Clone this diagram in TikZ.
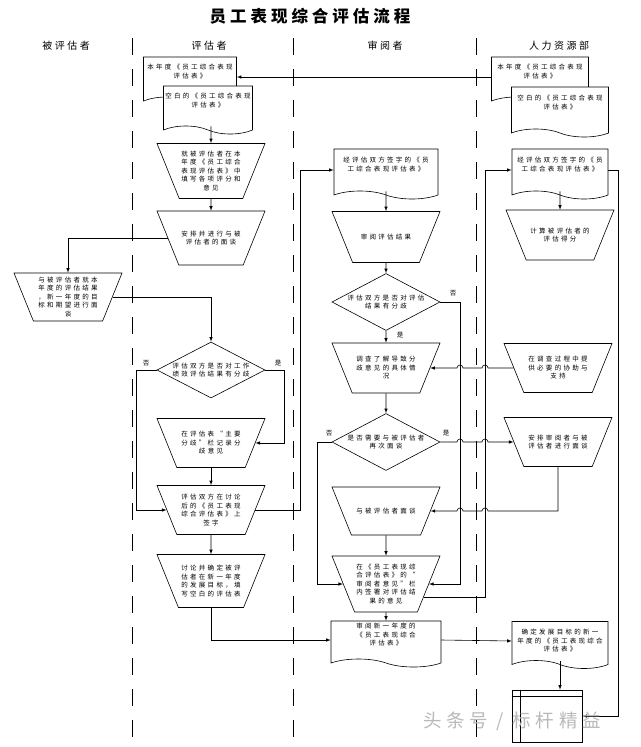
\documentclass[tikz,border=0pt]{standalone}
\usepackage{fontspec}
\usetikzlibrary{arrows}
\usetikzlibrary{shapes.geometric}
\usetikzlibrary{shapes.symbols}
\usetikzlibrary{calc}

\newfontfamily\cjk[LetterSpace=35]{Noto Sans CJK SC}
\newfontfamily\cjkhead[LetterSpace=25]{Noto Sans CJK SC}
\newfontfamily\cjktitle[LetterSpace=24]{Noto Sans CJK SC}
\newcommand{\docpad}{\\[3pt]\mbox{}}
% text block of a manual step: height of the shape, then the lines
\newcommand{\trapbody}[2]{\parbox[c][#1][c]{\dimexpr108pt-0.808\dimexpr#1\relax\relax}{\centering #2}}

\tikzset{
  flow/.style={->, >=latex, line width=0.6pt},
  lane/.style={line width=0.9pt, dash pattern=on 17pt off 14pt},
  lanehead/.style={font=\cjkhead\fontsize{10}{12}\selectfont},
  box/.style={draw, line width=0.6pt, fill=white, align=center, inner sep=1pt,
    font=\cjk\fontsize{6.5}{8.5}\selectfont},
  manual/.style={box, trapezium, shape border rotate=180, inner sep=0pt,
    trapezium left angle=68, trapezium right angle=68},
  doc/.style={box, tape, tape bend top=none, tape bend bottom=out and in,
    tape bend height=8pt},
  decision/.style={box, diamond, aspect=1.9, inner sep=0pt,
    minimum width=108pt, minimum height=56pt},
  answer/.style={font=\cjk\fontsize{6.5}{8}\selectfont, inner sep=0pt},
}

\begin{document}
\begin{tikzpicture}[x=1pt, y=1pt]
  \useasboundingbox[fill=white] (0,0) rectangle (640,-747);

  % title, lanes
  \node[font=\cjktitle\bfseries\fontsize{16.5}{19}\selectfont] (title) at (310,-16) {员工表现综合评估流程};
  \node[lanehead] (headB) at (66,-46) {被评估者};
  \node[lanehead] (headE) at (209,-46) {评估者};
  \node[lanehead] (headR) at (385,-46) {审阅者};
  \node[lanehead] (headH) at (559,-46) {人力资源部};
  \draw[lane] (132,-38) -- (132,-747);
  \draw[lane] (293,-38) -- (293,-747);
  \draw[lane] (476,-38) -- (476,-747);

  \coordinate (ebus) at (300,0);
  \coordinate (rbus) at (460,0);
  \coordinate (hbus) at (485,0);
  \coordinate (hrbus) at (618,0);

  % evaluator
  \node[doc, minimum width=93pt, minimum height=48pt] (edocA) at (190,-77) {本年度《员工综合表现\\评估表》\docpad};
  \node[doc, minimum width=89pt, minimum height=48pt] (edocB) at (208,-106) {空白的《员工综合表现\\评估表》\docpad};
  \node[manual] (etrapA) at (211,-171) {\trapbody{55pt}{就被评估者在本\\年度《员工综合\\表现评估表》中\\填写各项评分和\\意见}};
  \node[manual] (etrapB) at (211,-238) {\trapbody{54pt}{安排并进行与被\\评估者的面谈}};
  \node[decision] (ediam) at (211,-370) {评估双方是否对工作\\绩效评估结果有分歧};
  \node[manual] (etrapC) at (211,-443) {\trapbody{49pt}{在评估表“主要\\分歧”栏记录分\\歧意见}};
  \node[manual] (etrapD) at (211,-510) {\trapbody{49pt}{评估双方在讨论\\后的《员工表现\\综合评估表》上\\签字}};
  \node[manual] (etrapE) at (211,-581) {\trapbody{53pt}{讨论并确定被评\\估者在新一年度\\的发展目标，填\\写空白的评估表}};

  % evaluatee
  \node[manual] (btrap) at (68,-297) {\trapbody{48pt}{与被评估者就本\\年度的评估结果\\，新一年度的目\\标和期望进行面\\谈}};

  % reviewer
  \node[doc, minimum width=104pt, minimum height=50pt] (rdocA) at (386,-170) {经评估双方签字的《员\\工综合表现评估表》\docpad};
  \node[manual] (rtrapA) at (386,-237) {\trapbody{51pt}{审阅评估结果}};
  \node[decision, minimum height=57pt] (rdiamA) at (386,-302) {评估双方是否对评估\\结果有分歧};
  \node[manual] (rtrapB) at (386,-368) {\trapbody{50pt}{调查了解导致分\\歧意见的具体情\\况}};
  \node[decision, minimum height=57pt] (rdiamB) at (386,-442) {是否需要与被评估者\\再次面谈};
  \node[manual] (rtrapC) at (386,-511) {\trapbody{48pt}{与被评估者面谈}};
  \node[manual] (rtrapD) at (386,-584) {\trapbody{56pt}{在《员工表现综\\合评估表》的“\\审阅者意见”栏\\内签署对评估结\\果的意见}};
  \node[doc, minimum width=110pt, minimum height=46pt] (rdocB) at (386,-640) {审阅新一年度的\\《员工表现综合\\评估表》\docpad};

  % human resources
  \node[doc, minimum width=97pt, minimum height=48pt] (hdocA) at (540,-77) {本年度《员工综合表现\\评估表》\docpad};
  \node[doc, minimum width=97pt, minimum height=50pt] (hdocB) at (560,-108) {空白的《员工综合表现\\评估表》\docpad};
  \node[doc, minimum width=96pt, minimum height=50pt] (hdocC) at (560,-170) {经评估双方签字的《员\\工综合表现评估表》\docpad};
  \node[manual] (htrapA) at (560,-235) {\trapbody{50pt}{计算被评估者的\\评估得分}};
  \node[manual] (htrapB) at (558,-368) {\trapbody{49pt}{在调查过程中提\\供必要的协助与\\支持}};
  \node[manual] (htrapC) at (558,-442) {\trapbody{49pt}{安排审阅者与被\\评估者进行面谈}};
  \node[doc, minimum width=96pt, minimum height=47pt] (hdocD) at (560,-641) {确定发展目标的新一\\年度的《员工表现综合\\评估表》};
  \node[draw, line width=0.6pt, minimum width=70pt, minimum height=52pt] (archive) at (547,-716) {};
  \draw[line width=0.6pt] ($(archive.north west)+(0,-7)$) -- ($(archive.north east)+(0,-7)$);
  \draw[line width=0.6pt] ($(archive.north west)+(9,0)$) -- ($(archive.south west)+(9,0)$);

  % answers
  \node[answer] (noE) at (146,-363) {否};
  \node[answer] (yesE) at (278,-363) {是};
  \node[answer] (noRA) at (453,-293) {否};
  \node[answer] (yesRA) at (400,-335) {是};
  \node[answer] (noRB) at (329,-433) {否};
  \node[answer] (yesRB) at (446,-433) {是};

  % connectors
  \draw[flow] (hdocA.west) -- (edocA.east);
  \draw[flow] (etrapA |- edocB.south) -- (etrapA.north);
  \draw[flow] (etrapA.south) -- (etrapB.north);
  \draw[flow] (etrapB.west) -| (btrap.north);
  \draw[flow] (btrap.east) -| (ediam.north);
  \draw[flow] (ediam.west) -- ++(-20,0) |- (etrapD.west);
  \draw[flow] (ediam.east) -- ++(19,0) |- (etrapC.east);
  \draw[flow] (etrapC.south) -- (etrapD.north);
  \draw[flow] (etrapD.south) -- (etrapE.north);
  \draw[flow] (etrapD.east) -| (ebus |- rdocA.west) -- (rdocA.west);
  \draw[flow] (etrapE.south) |- (rdocB.west);

  \draw[flow] (rdocA.south) -- (rtrapA.north);
  \draw[flow] (rtrapA.south) -- (rdiamA.north);
  \draw[flow] (rdiamA.south) -- (rtrapB.north);
  \draw[flow] (rdiamA.east) -| (rbus |- rtrapD.east) -- (rtrapD.east);
  \draw[flow] (htrapB.west) -- ($(htrapB.west -| hbus)+(3,0)$) arc[start angle=0, end angle=180, radius=3]
    -- ($(htrapB.west -| rbus)+(3,0)$) arc[start angle=0, end angle=180, radius=3] -- (rtrapB.east);
  \draw[flow] (rtrapB.south) -- (rdiamB.north);
  \draw[flow] (rdiamB.east) -- ($(rdiamB.east -| rbus)+(-3,0)$) arc[start angle=180, end angle=0, radius=3]
    -- ($(rdiamB.east -| hbus)+(-3,0)$) arc[start angle=180, end angle=0, radius=3] -- (htrapC.west);
  \draw[flow] (rdiamB.west) -- ++(-14,0) |- (rtrapD.west);
  \draw[flow] (htrapC.south) |- ($(rtrapC.east -| hbus)+(3,0)$) arc[start angle=0, end angle=180, radius=3]
    -- ($(rtrapC.east -| rbus)+(3,0)$) arc[start angle=0, end angle=180, radius=3] -- (rtrapC.east);
  \draw[flow] (rtrapC.south) -- (rtrapD.north);
  \draw[flow] (rtrapD.south) -- (rdocB.north);
  \draw[flow] (rtrapD.-20) -| (hbus |- hdocC.west) -- (hdocC.west);
  \draw[flow] (rdocB.east) -- (hdocD.west);

  \draw[flow] (hdocC.south) -- (htrapA.north);
  \draw[flow] (hdocC.east) -| (hrbus |- archive.east) -- (archive.east);
  \draw[flow] (hdocD.south) -- (hdocD.south |- archive.north);

  % watermark
  \node[text=gray!55, font=\cjkhead\fontsize{18.5}{21}\selectfont] (mark) at (512,-721) {头条号 / 标杆精益};
\end{tikzpicture}
\end{document}
